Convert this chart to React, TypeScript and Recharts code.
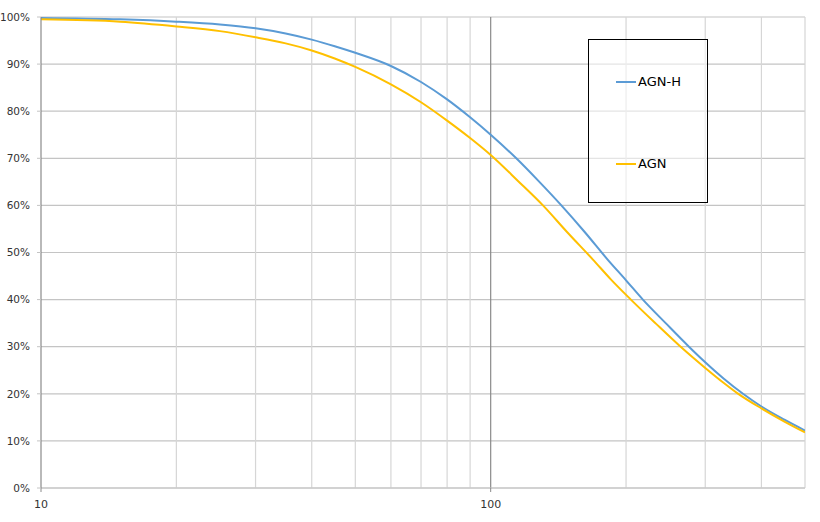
import React from "react";
import { LineChart, Line, XAxis, YAxis, CartesianGrid, ReferenceLine } from "recharts";

const agnHX = [10, 15, 20, 25, 30, 35, 40, 45, 50, 60, 70, 80, 90, 100, 114, 128, 143.6, 162, 182, 200, 218, 245, 276, 300, 330, 364, 400, 450, 500];
const agnHY = [99.8, 99.5, 99.0, 98.4, 97.6, 96.5, 95.2, 93.8, 92.4, 89.6, 86.2, 82.5, 78.7, 75.0, 70.0, 65.1, 60.0, 54.3, 48.5, 44.1, 40.0, 35.0, 30.0, 26.7, 23.2, 20.0, 17.3, 14.5, 12.2];
const agnX = [10, 15, 20, 25, 30, 35, 40, 45, 50, 60, 70, 80, 90, 100, 115, 130.7, 148, 168.8, 185, 205, 233, 263, 300, 330, 354, 400, 450, 500];
const agnY = [99.5, 99.0, 98.0, 97.0, 95.7, 94.4, 92.9, 91.2, 89.4, 85.7, 81.9, 78.0, 74.3, 70.7, 65.2, 60.0, 54.3, 48.5, 44.3, 40.0, 34.9, 30.2, 25.5, 22.3, 20.1, 16.9, 14.1, 11.8];
const yTicks = [0, 10, 20, 30, 40, 50, 60, 70, 80, 90, 100];
const xLabelTicks = [10, 100];
const minorGrid = [20, 30, 40, 50, 60, 70, 80, 90, 200, 300, 400, 500];
const majorGrid = [100];
const seriesNames = ["AGN-H", "AGN"];
const seriesColors = ["#5B9BD5", "#FFC000"];

const agnHData = agnHX.map((x, i) => ({ x, y: agnHY[i] }));
const agnData = agnX.map((x, i) => ({ x, y: agnY[i] }));
const series = [
  { name: seriesNames[0], color: seriesColors[0], data: agnHData },
  { name: seriesNames[1], color: seriesColors[1], data: agnData },
];

export default function App() {
  return (
    <div style={{ position: "absolute", left: 0, top: 0, width: 820, height: 522, background: "#fff" }}>
      <LineChart width={820} height={522} margin={{ top: 17, right: 15, bottom: 4, left: 0 }}>
        <CartesianGrid vertical={false} stroke="#c4c4c4" strokeWidth={1.2} />
        {minorGrid.map((g) => (
          <ReferenceLine key={g} x={g} stroke="#d6d6d6" strokeWidth={1.2} />
        ))}
        {majorGrid.map((g) => (
          <ReferenceLine key={g} x={g} stroke="#8a8a8a" strokeWidth={1.2} />
        ))}
        <XAxis
          dataKey="x"
          type="number"
          scale="log"
          domain={[10, 500]}
          ticks={xLabelTicks}
          allowDataOverflow
          height={30}
          tickSize={4}
          tickMargin={8}
          axisLine={{ stroke: "#c4c4c4", strokeWidth: 1.2 }}
          tickLine={{ stroke: "#8a8a8a" }}
          tick={{ fill: "#333", fontSize: 11, fontFamily: "DejaVu Sans" }}
        />
        <YAxis
          dataKey="y"
          type="number"
          domain={[0, 100]}
          ticks={yTicks}
          width={41}
          tickSize={4}
          tickMargin={7}
          tickFormatter={(v: number) => `${v}%`}
          axisLine={{ stroke: "#8a8a8a", strokeWidth: 1.2 }}
          tickLine={{ stroke: "#c4c4c4" }}
          tick={{ fill: "#333", fontSize: 10.5, fontFamily: "DejaVu Sans" }}
        />
        {series.map((s) => (
          <Line key={s.name} data={s.data} dataKey="y" name={s.name} stroke={s.color} strokeWidth={2} dot={false} type="monotone" isAnimationActive={false} />
        ))}
      </LineChart>
      <div style={{ position: "absolute", left: 588, top: 39, width: 118, height: 162, border: "1px solid #000", background: "rgba(255,255,255,0.55)", fontFamily: "DejaVu Sans", fontSize: 13, color: "#000" }}>
        {series.map((s, i) => (
          <div key={s.name} style={{ position: "absolute", left: 27, top: i === 0 ? 34 : 116, display: "flex", alignItems: "center", whiteSpace: "nowrap" }}>
            <div style={{ width: 20, height: 2, background: s.color, marginRight: 2 }} />
            <span>{s.name}</span>
          </div>
        ))}
      </div>
    </div>
  );
}
